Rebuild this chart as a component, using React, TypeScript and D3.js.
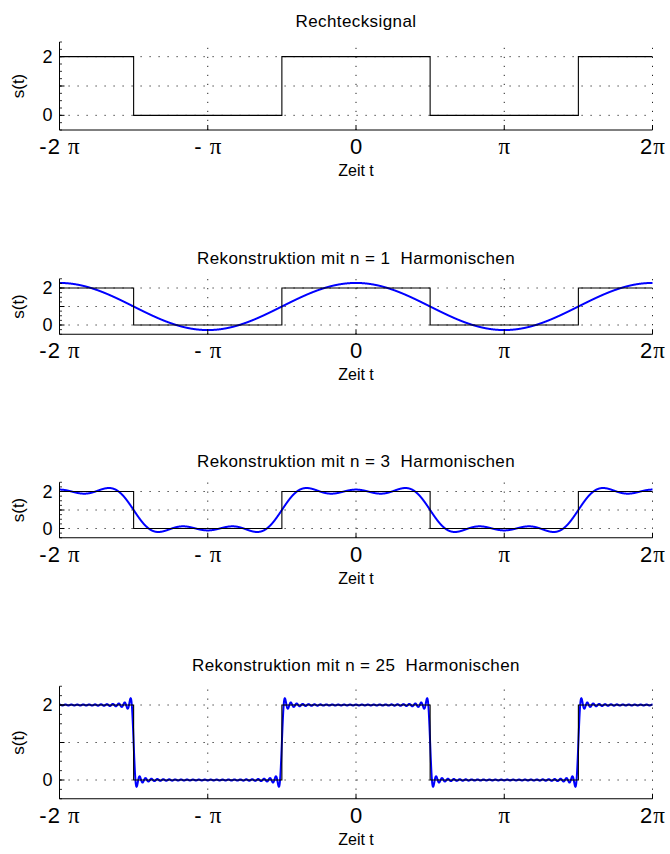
import React from 'react';
import * as d3 from 'd3';

const PI = Math.PI;

// ---- data ----
const panelTitles = [
  'Rechtecksignal',
  'Rekonstruktion mit n = 1  Harmonischen',
  'Rekonstruktion mit n = 3  Harmonischen',
  'Rekonstruktion mit n = 25  Harmonischen',
];
// number of (odd) harmonics used in each panel's reconstruction; 0 = none
const harmonicCounts = [0, 1, 3, 25];
// ideal square wave: edges and levels between them
const squareEdges = [-2 * PI, -1.5 * PI, -0.5 * PI, 0.5 * PI, 1.5 * PI, 2 * PI];
const squareLevels = [2, 0, 2, 0, 2];
const squareMean = 1;
const squareAmplitude = 1;
const xTickValues = [-2 * PI, -PI, 0, PI, 2 * PI];
const xTickLabels = ['-2 π', '- π', '0', 'π', '2π'];
const yTickValues = [0, 1, 2];
const yTickLabels = ['0', '', '2'];
const yDomain = [-0.5, 2.5];
const xDomain = [-2 * PI, 2 * PI];

// ---- layout ----
const W = 670;
const H = 854;
const X0 = 59.5;
const X1 = 652.5;
const panelTops = [42, 278.75, 482.25, 686.25];
const panelBottoms = [130, 334.25, 537.75, 798.75];

const SANS = '"Liberation Sans", Arial, Helvetica, sans-serif';
const SERIF = '"Liberation Serif", "DejaVu Serif", serif';

function fourier(n: number, t: number): number {
  let s = squareMean;
  for (let i = 1; i <= n; i++) {
    const k = 2 * i - 1;
    const sign = i % 2 === 1 ? 1 : -1;
    s += ((4 * squareAmplitude) / (k * PI)) * sign * Math.cos(k * t);
  }
  return s;
}

function TickLabel({ x, y, text }: { x: number; y: number; text: string }) {
  const parts = text.split('π');
  return (
    <text
      x={x + 0.5}
      y={y}
      textAnchor="middle"
      fontFamily={SANS}
      fontSize={22}
      letterSpacing={1}
      fill="#000"
      style={{ whiteSpace: 'pre' }}
    >
      {parts.map((p, i) => (
        <React.Fragment key={i}>
          {p && <tspan>{p}</tspan>}
          {i < parts.length - 1 && (
            <tspan fontFamily={SERIF} fontSize={23}>
              π
            </tspan>
          )}
        </React.Fragment>
      ))}
    </text>
  );
}

function Panel({ idx }: { idx: number }) {
  const top = panelTops[idx];
  const bottom = panelBottoms[idx];
  const x = d3.scaleLinear().domain(xDomain).range([X0, X1]);
  const y = d3.scaleLinear().domain(yDomain).range([bottom, top]);

  const squarePts: [number, number][] = [];
  squareLevels.forEach((lv, i) => {
    squarePts.push([squareEdges[i], lv]);
    squarePts.push([squareEdges[i + 1], lv]);
  });
  const line = d3
    .line<[number, number]>()
    .x((d) => x(d[0]))
    .y((d) => y(d[1]));

  const n = harmonicCounts[idx];
  let recon: string | null = null;
  if (n > 0) {
    const ts = d3.range(0, 4001).map((i) => xDomain[0] + ((xDomain[1] - xDomain[0]) * i) / 4000);
    recon = line(ts.map((t) => [t, fourier(n, t)] as [number, number]));
  }

  const minorY = d3.range(-0.5, 2.5001, 0.25);
  const mid = (top + bottom) / 2;

  return (
    <g>
      {/* grid */}
      {yTickValues.map((v) => (
        <line key={'gy' + v} x1={X0} x2={X1} y1={y(v)} y2={y(v)} stroke="#222" strokeWidth={1} strokeDasharray="1.2,7.8" />
      ))}
      {xTickValues.slice(1).map((v) => (
        <line key={'gx' + v} x1={x(v)} x2={x(v)} y1={bottom} y2={top} stroke="#222" strokeWidth={1} strokeDasharray="1.2,7.8" />
      ))}
      {/* data */}
      {recon && <path d={recon} fill="none" stroke="#0000ff" strokeWidth={2} />}
      <path d={line(squarePts) || ''} fill="none" stroke="#000" strokeWidth={1.1} />
      {/* axes */}
      <line x1={X0} x2={X0} y1={top} y2={bottom} stroke="#000" strokeWidth={1} />
      <line x1={X0} x2={X1} y1={bottom} y2={bottom} stroke="#000" strokeWidth={1} />
      {minorY.map((v, i) => (
        <line key={'my' + i} x1={X0} x2={X0 + 2.5} y1={y(v)} y2={y(v)} stroke="#000" strokeWidth={0.8} />
      ))}
      {yTickValues.map((v) => (
        <line key={'ty' + v} x1={X0} x2={X0 + 5} y1={y(v)} y2={y(v)} stroke="#000" strokeWidth={1} />
      ))}
      {xTickValues.map((v) => (
        <line key={'tx' + v} x1={x(v)} x2={x(v)} y1={bottom} y2={bottom - 5} stroke="#000" strokeWidth={1} />
      ))}
      {/* labels */}
      {yTickValues.map((v, i) =>
        yTickLabels[i] ? (
          <text key={'ly' + v} x={X0 - 7} y={y(v) + 6} textAnchor="end" fontFamily={SANS} fontSize={18} fill="#000">
            {yTickLabels[i]}
          </text>
        ) : null
      )}
      {xTickValues.map((v, i) => (
        <TickLabel key={'lx' + i} x={x(v)} y={bottom + 24} text={xTickLabels[i]} />
      ))}
      <text
        x={(X0 + X1) / 2}
        y={top - 15}
        textAnchor="middle"
        fontFamily={SANS}
        fontSize={17}
        letterSpacing={0.4}
        fill="#000"
        style={{ whiteSpace: 'pre' }}
      >
        {panelTitles[idx]}
      </text>
      <text x={(X0 + X1) / 2} y={bottom + 46} textAnchor="middle" fontFamily={SANS} fontSize={16} fill="#000">
        Zeit t
      </text>
      <text
        transform={`translate(24, ${mid}) rotate(-90)`}
        textAnchor="middle"
        fontFamily={SANS}
        fontSize={17}
        fill="#000"
      >
        s(t)
      </text>
    </g>
  );
}

export default function App() {
  return (
    <svg
      width={W}
      height={H}
      viewBox={`0 0 ${W} ${H}`}
      style={{ position: 'absolute', left: 0, top: 0, background: '#fff' }}
    >
      <rect x={0} y={0} width={W} height={H} fill="#fff" />
      {panelTitles.map((_, i) => (
        <Panel key={i} idx={i} />
      ))}
    </svg>
  );
}
